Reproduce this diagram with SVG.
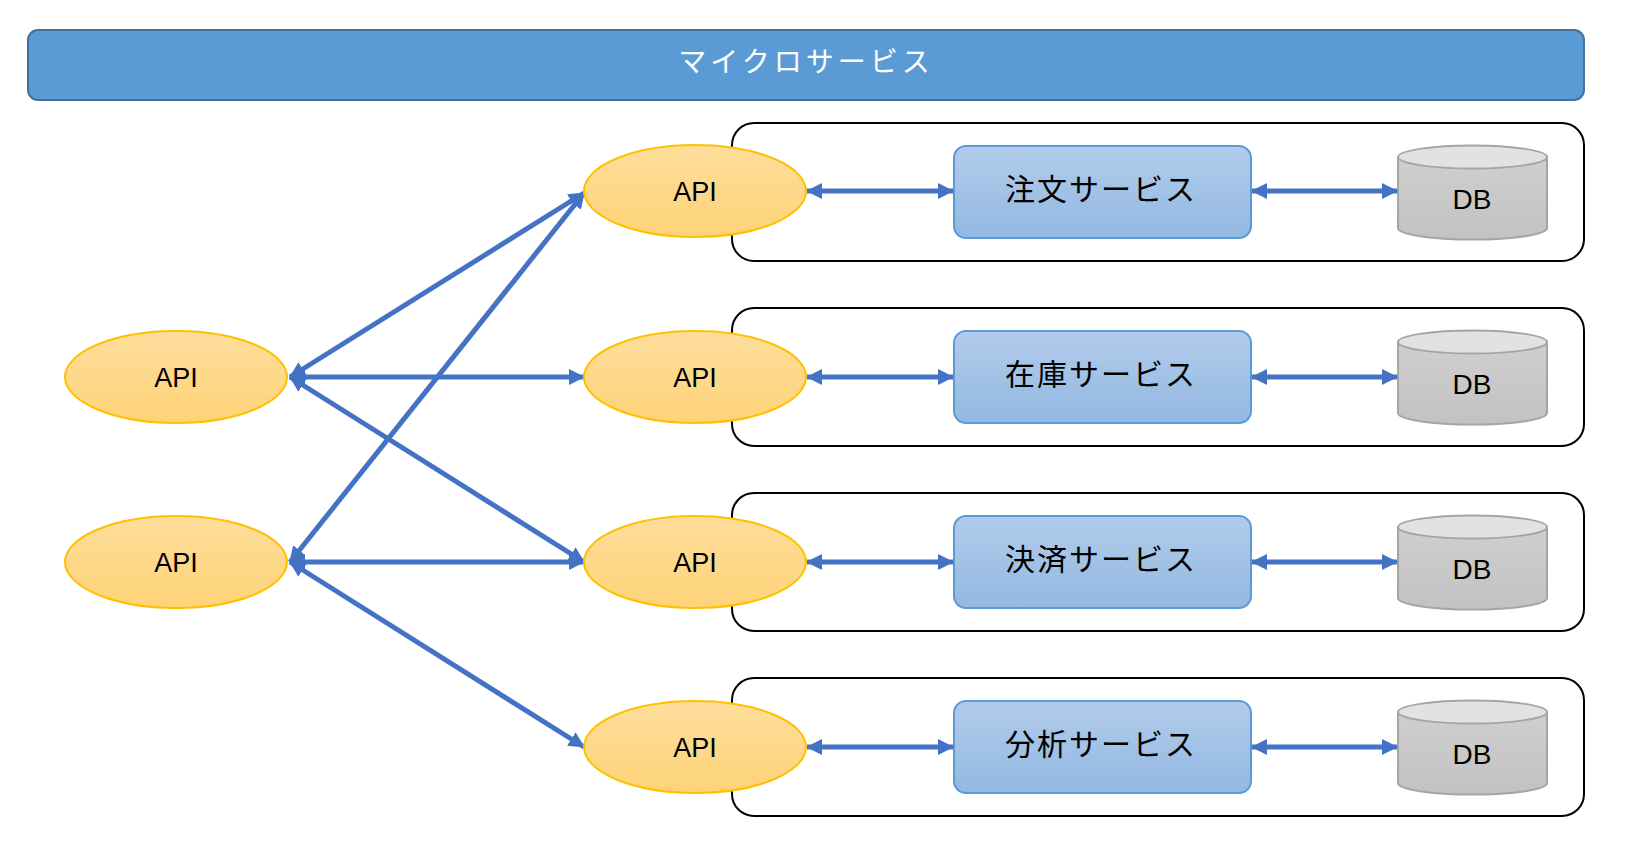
<svg xmlns="http://www.w3.org/2000/svg" width="1629" height="861" viewBox="0 0 1629 861">
<defs>
<linearGradient id="gApi" x1="0" y1="0" x2="0" y2="1"><stop offset="0" stop-color="#FEDE9C"/><stop offset="1" stop-color="#FED378"/></linearGradient>
<linearGradient id="gSvc" x1="0" y1="0" x2="0" y2="1"><stop offset="0" stop-color="#B1CCEA"/><stop offset="1" stop-color="#93B8E2"/></linearGradient>
<linearGradient id="gDb" x1="0" y1="0" x2="0" y2="1"><stop offset="0" stop-color="#CFCFCF"/><stop offset="1" stop-color="#C2C2C2"/></linearGradient>
<marker id="ah" markerUnits="userSpaceOnUse" markerWidth="16" markerHeight="16" viewBox="0 0 16 16" refX="15" refY="8" orient="auto-start-reverse"><path d="M0,0 L16,8 L0,16 Z" fill="#4472C4"/></marker>
<style>
.api{fill:url(#gApi);stroke:#FFC000;stroke-width:2}
.apit{font-family:"Liberation Sans",Arial,sans-serif;font-size:27px;fill:#000;text-anchor:middle}
.box{fill:#fff;stroke:#000;stroke-width:2}
.svc{fill:url(#gSvc);stroke:#5B9BD5;stroke-width:2}
.svct{font-family:"Noto Sans CJK JP",sans-serif;font-size:30px;fill:#000;text-anchor:middle;letter-spacing:2px}
.db{fill:url(#gDb);stroke:#A5A5A5;stroke-width:2}
.dbtop{fill:#E2E2E2;stroke:#A5A5A5;stroke-width:2}
.dbt{font-family:"Liberation Sans",Arial,sans-serif;font-size:28px;fill:#000;text-anchor:middle}
.c{stroke:#4472C4;stroke-width:5;fill:none;marker-start:url(#ah);marker-end:url(#ah)}
</style>
</defs>
<rect width="1629" height="861" fill="#fff"/>
<g id="title">
<rect x="28" y="30" width="1556" height="70" rx="10" fill="#5B9BD5" stroke="#41719C" stroke-width="2"/>
<text x="806" y="72" font-family="'Noto Sans CJK JP',sans-serif" font-size="28" fill="#fff" text-anchor="middle" letter-spacing="4">マイクロサービス</text>
</g>
<g id="row1">
<rect class="box" x="732" y="123" width="852" height="138" rx="22"/>
<rect class="svc" x="954" y="146" width="297" height="92" rx="12"/>
<text class="svct" x="1101" y="200">注文サービス</text>
<path class="db" d="M1398,157 V228 A74,11.5 0 0 0 1547,228 V157 Z"/>
<ellipse class="dbtop" cx="1472.5" cy="157" rx="74.5" ry="11.5"/>
<text class="dbt" x="1472" y="209">DB</text>
</g>
<g id="row2">
<rect class="box" x="732" y="308" width="852" height="138" rx="22"/>
<rect class="svc" x="954" y="331" width="297" height="92" rx="12"/>
<text class="svct" x="1101" y="385">在庫サービス</text>
<path class="db" d="M1398,342 V413 A74,11.5 0 0 0 1547,413 V342 Z"/>
<ellipse class="dbtop" cx="1472.5" cy="342" rx="74.5" ry="11.5"/>
<text class="dbt" x="1472" y="394">DB</text>
</g>
<g id="row3">
<rect class="box" x="732" y="493" width="852" height="138" rx="22"/>
<rect class="svc" x="954" y="516" width="297" height="92" rx="12"/>
<text class="svct" x="1101" y="570">決済サービス</text>
<path class="db" d="M1398,527 V598 A74,11.5 0 0 0 1547,598 V527 Z"/>
<ellipse class="dbtop" cx="1472.5" cy="527" rx="74.5" ry="11.5"/>
<text class="dbt" x="1472" y="579">DB</text>
</g>
<g id="row4">
<rect class="box" x="732" y="678" width="852" height="138" rx="22"/>
<rect class="svc" x="954" y="701" width="297" height="92" rx="12"/>
<text class="svct" x="1101" y="755">分析サービス</text>
<path class="db" d="M1398,712 V783 A74,11.5 0 0 0 1547,783 V712 Z"/>
<ellipse class="dbtop" cx="1472.5" cy="712" rx="74.5" ry="11.5"/>
<text class="dbt" x="1472" y="764">DB</text>
</g>
<g id="connectors">
<line class="c" x1="290" y1="377" x2="584" y2="193"/>
<line class="c" x1="290" y1="377" x2="584" y2="377"/>
<line class="c" x1="290" y1="377" x2="584" y2="562"/>
<line class="c" x1="290" y1="562" x2="584" y2="193"/>
<line class="c" x1="290" y1="562" x2="584" y2="562"/>
<line class="c" x1="290" y1="562" x2="584" y2="747"/>
<line class="c" x1="807" y1="191" x2="953" y2="191"/>
<line class="c" x1="807" y1="377" x2="953" y2="377"/>
<line class="c" x1="807" y1="562" x2="953" y2="562"/>
<line class="c" x1="807" y1="747" x2="953" y2="747"/>
<line class="c" x1="1252" y1="191" x2="1397" y2="191"/>
<line class="c" x1="1252" y1="377" x2="1397" y2="377"/>
<line class="c" x1="1252" y1="562" x2="1397" y2="562"/>
<line class="c" x1="1252" y1="747" x2="1397" y2="747"/>
</g>
<g id="apiL1"><ellipse class="api" cx="176" cy="377" rx="111" ry="46"/><text class="apit" x="176" y="387">API</text></g>
<g id="apiL2"><ellipse class="api" cx="176" cy="562" rx="111" ry="46"/><text class="apit" x="176" y="572">API</text></g>
<g id="apiR1"><ellipse class="api" cx="695" cy="191" rx="111" ry="46"/><text class="apit" x="695" y="201">API</text></g>
<g id="apiR2"><ellipse class="api" cx="695" cy="377" rx="111" ry="46"/><text class="apit" x="695" y="387">API</text></g>
<g id="apiR3"><ellipse class="api" cx="695" cy="562" rx="111" ry="46"/><text class="apit" x="695" y="572">API</text></g>
<g id="apiR4"><ellipse class="api" cx="695" cy="747" rx="111" ry="46"/><text class="apit" x="695" y="757">API</text></g>
</svg>
